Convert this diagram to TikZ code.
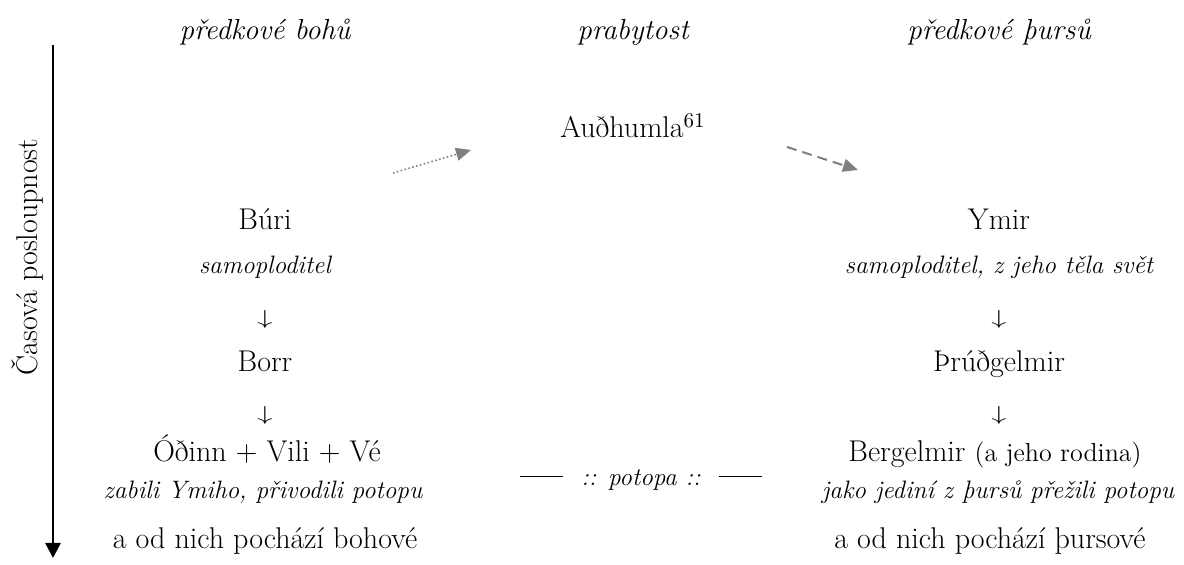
\documentclass[tikz,border=0pt]{standalone}
\usepackage{fontspec}
\usepackage{graphicx}
\usetikzlibrary{arrows.meta}
\definecolor{arrowgray}{gray}{0.5}
\newcommand{\mainsz}{\fontsize{15}{18}\selectfont}
\newcommand{\headsz}{\fontsize{14.5}{17}\selectfont}
\newcommand{\subsz}{\fontsize{12.6}{15}\selectfont}
\newcommand{\parsz}{\fontsize{13}{15}\selectfont}
\newcommand{\darr}{\scalebox{1.05}[0.7]{$\downarrow$}}
\begin{document}
\begin{tikzpicture}[x=0.5pt,y=-0.5pt,
  every node/.style={inner sep=0pt, outer sep=0pt},
  hdtext/.style={anchor=base, font=\headsz\itshape},
  nmtext/.style={anchor=base, font=\mainsz},
  nttext/.style={anchor=base, font=\subsz\itshape},
  datext/.style={anchor=center, font=\mainsz},
  linkarrow/.style={draw=arrowgray, -{Triangle[length=7.5pt,width=6.5pt]}},
  timeaxis/.style={draw=black, line width=1.3pt, -{Triangle[length=7.5pt,width=7.5pt]}},
]
\useasboundingbox (0,0) rectangle (1184,565);

% headers
\node[hdtext] (hl) at (265,40) {předkové bohů};
\node[hdtext] (hm) at (633,40) {prabytost};
\node[hdtext] (hr) at (999,40) {předkové þursů};

% middle
\node[nmtext] (aud) at (633,138) {Auðhumla\textsuperscript{61}};

% left column
\node[nmtext] (buri) at (265,230) {Búri};
\node[nttext] (buri-n) at (265,274) {samoploditel};
\node[datext] (la1) at (265,319) {\darr};
\node[nmtext] (borr) at (265,372) {Borr};
\node[datext] (la2) at (265,415) {\darr};
\node[nmtext] (odinn) at (267,462) {Óðinn + Vili + Vé};
\node[nttext] (odinn-n) at (263,499) {zabili Ymiho, přivodili potopu};
\node[nmtext] (gods) at (265,549) {a od nich pochází bohové};

% right column
\node[nmtext] (ymir) at (999,230) {Ymir};
\node[nttext] (ymir-n) at (999,274) {samoploditel, z jeho těla svět};
\node[datext] (ra1) at (999,319) {\darr};
\node[nmtext] (thrud) at (999,372) {Þrúðgelmir};
\node[datext] (ra2) at (999,415) {\darr};
\node[nmtext] (berg) at (995,462) {Bergelmir {\parsz(a jeho rodina)}};
\node[nttext] (berg-n) at (998,499) {jako jediní z þursů přežili potopu};
\node[nmtext] (thurs) at (990,549) {a od nich pochází þursové};

% flood
\node[anchor=base, font=\mainsz] (flood) at (641,486)
  {\rule[0.3em]{1.45em}{0.45pt}\hspace{0.6em}{\subsz\itshape :: potopa ::}\hspace{0.6em}\rule[0.3em]{1.45em}{0.45pt}};

% time axis
\node[anchor=base, rotate=90, font=\mainsz] (time) at (38,257) {Časová posloupnost};
\coordinate (axtop) at (53,45);
\coordinate (axend) at (53,558);
\draw[timeaxis] (axtop) -- (axend);

% links to/from Audhumla
\coordinate (l1s) at (393,173);
\coordinate (l1e) at (471,150);
\draw[linkarrow, line width=0.8pt, dash pattern=on 0.8pt off 1.2pt] (l1s) -- (l1e);
\coordinate (l2s) at (787,147);
\coordinate (l2e) at (858,170);
\draw[linkarrow, line width=1pt, dash pattern=on 5pt off 3pt] (l2s) -- (l2e);
\end{tikzpicture}
\end{document}
